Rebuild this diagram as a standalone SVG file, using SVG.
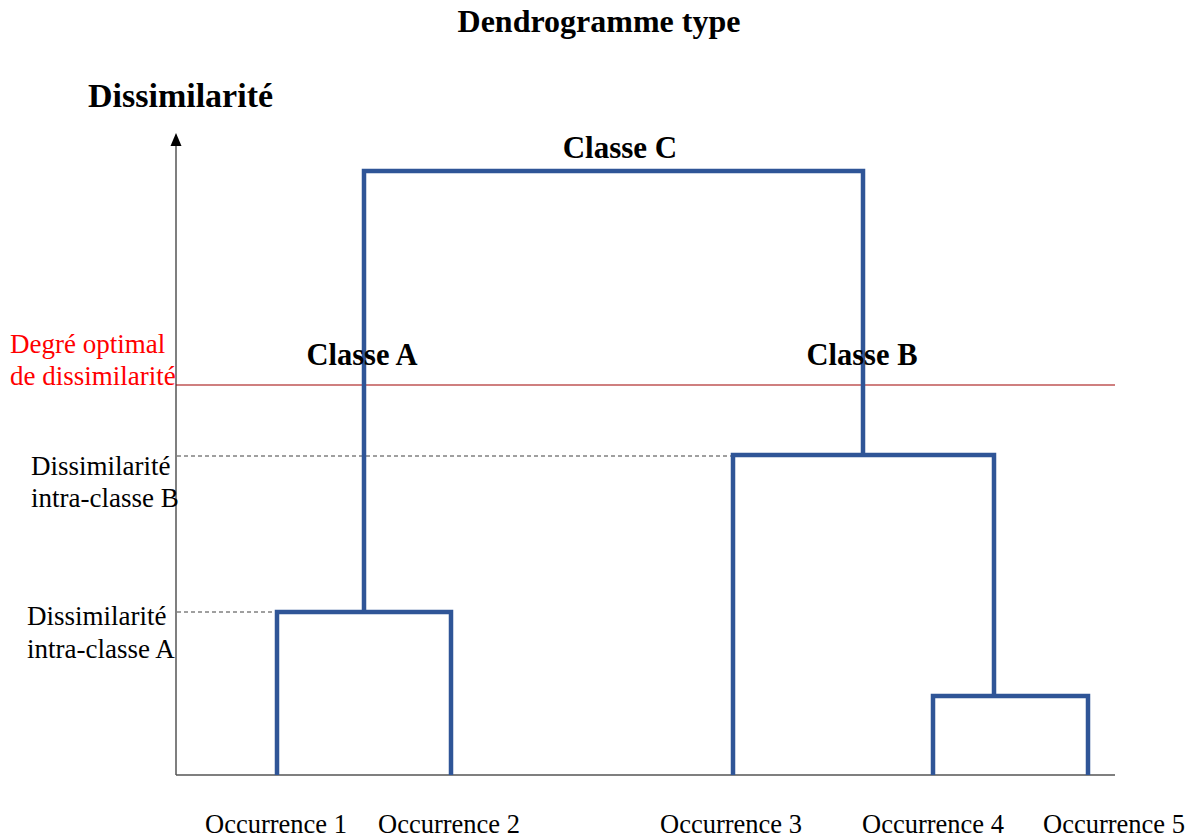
<svg xmlns="http://www.w3.org/2000/svg" width="1195" height="837" viewBox="0 0 1195 837">
<style>
text{font-family:"Liberation Serif","Times New Roman",serif;fill:#000}
.b{font-weight:bold}
.t27{font-size:27px}
.occ{font-size:26.5px}
.red{fill:#FF0000}
.dend{fill:none;stroke:#2F5597;stroke-width:4.5;stroke-linecap:butt;stroke-linejoin:miter}
.dash{stroke:#404040;stroke-width:1;stroke-dasharray:4 3}
</style>
<rect width="1195" height="837" fill="#fff"/>
<g id="title"><text class="b" x="599" y="32" font-size="32" text-anchor="middle">Dendrogramme type</text></g>
<g id="axis-label"><text class="b" x="88" y="107" font-size="34">Dissimilarité</text></g>
<g id="axes">
<line x1="176" y1="144" x2="176" y2="775" stroke="#555" stroke-width="1.5"/>
<line x1="176" y1="775" x2="1115" y2="775" stroke="#555" stroke-width="1.5"/>
<polygon points="176,133 170.5,146 181.5,146" fill="#000"/>
</g>
<g id="optimal">
<line x1="176" y1="385" x2="1115" y2="385" stroke="#A00000" stroke-width="1.2"/>
<text class="t27 red" x="10" y="353">Degré optimal</text>
<text class="t27 red" x="10" y="385">de dissimilarité</text>
</g>
<g id="intraB">
<line class="dash" x1="177" y1="456" x2="733" y2="456"/>
<text class="t27" x="31" y="475">Dissimilarité</text>
<text class="t27" x="31" y="507">intra-classe B</text>
</g>
<g id="intraA">
<line class="dash" x1="177" y1="612" x2="277" y2="612"/>
<text class="t27" x="27" y="625">Dissimilarité</text>
<text class="t27" x="27" y="658">intra-classe A</text>
</g>
<g id="connectors">
<path class="dend" d="M277,775 V612 H451 V775"/>
<path class="dend" d="M933,775 V696 H1088 V775"/>
<path class="dend" d="M733,775 V455 H994 V696"/>
<path class="dend" d="M364,612 V171 H863 V455"/>
</g>
<g id="classeC"><text class="b" x="620" y="158" font-size="31" text-anchor="middle">Classe C</text></g>
<g id="classeA"><text class="b" x="362" y="365" font-size="30.5" text-anchor="middle">Classe A</text></g>
<g id="classeB"><text class="b" x="862" y="365" font-size="30.5" text-anchor="middle">Classe B</text></g>
<g id="occ1"><text class="occ" x="205" y="833">Occurrence 1</text></g>
<g id="occ2"><text class="occ" x="378" y="833">Occurrence 2</text></g>
<g id="occ3"><text class="occ" x="660" y="833">Occurrence 3</text></g>
<g id="occ4"><text class="occ" x="862" y="833">Occurrence 4</text></g>
<g id="occ5"><text class="occ" x="1043" y="833">Occurrence 5</text></g>
</svg>
